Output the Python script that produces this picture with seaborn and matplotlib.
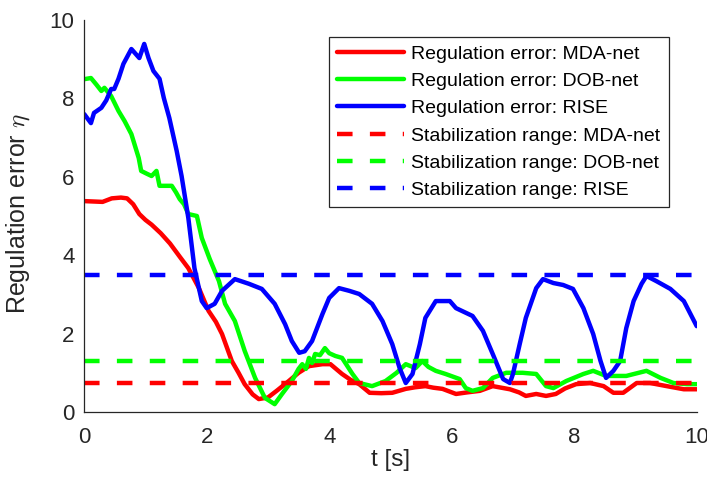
import matplotlib
matplotlib.use("Agg")
import matplotlib.pyplot as plt
import seaborn as sns
import pandas as pd

# ---------------- data ----------------
t_mda = [0, 0.15, 0.3, 0.45, 0.6, 0.7, 0.8, 0.9, 1.0, 1.1, 1.25, 1.4, 1.57, 1.7, 1.87, 2.03, 2.15,
         2.25, 2.41, 2.52, 2.62, 2.75, 2.85, 3.0, 3.15, 3.34, 3.5, 3.67, 3.89, 4.02, 4.21, 4.35, 4.49,
         4.66, 4.85, 5.03, 5.25, 5.4, 5.57, 5.7, 5.85, 6.07, 6.25, 6.46, 6.67, 6.95, 7.1, 7.21, 7.38,
         7.54, 7.7, 7.85, 8.03, 8.26, 8.48, 8.64, 8.8, 9.02, 9.24, 9.51, 9.79, 10.0]
e_mda = [5.38, 5.37, 5.36, 5.45, 5.47, 5.45, 5.3, 5.05, 4.9, 4.78, 4.56, 4.3, 3.94, 3.67, 3.17, 2.58,
         2.3, 1.99, 1.3, 1.0, 0.71, 0.45, 0.33, 0.37, 0.55, 0.79, 1.0, 1.17, 1.22, 1.22, 0.97, 0.82,
         0.71, 0.49, 0.48, 0.49, 0.59, 0.63, 0.66, 0.62, 0.59, 0.46, 0.5, 0.54, 0.66, 0.58, 0.5, 0.41,
         0.46, 0.41, 0.46, 0.6, 0.71, 0.74, 0.66, 0.49, 0.49, 0.74, 0.74, 0.66, 0.58, 0.58]

t_dob = [0, 0.11, 0.2, 0.28, 0.33, 0.44, 0.56, 0.66, 0.77, 0.89, 0.93, 1.02, 1.1, 1.18, 1.23, 1.3,
         1.43, 1.5, 1.56, 1.63, 1.7, 1.84, 1.92, 2.05, 2.2, 2.3, 2.46, 2.62, 2.79, 2.95, 3.11, 3.23,
         3.39, 3.5, 3.56, 3.62, 3.67, 3.72, 3.77, 3.85, 3.93, 4.0, 4.1, 4.21, 4.38, 4.49, 4.7, 4.92,
         5.1, 5.25, 5.41, 5.52, 5.62, 5.74, 5.9, 6.13, 6.23, 6.34, 6.51, 6.67, 6.89, 7.16, 7.38, 7.54,
         7.66, 7.87, 8.15, 8.31, 8.52, 8.85, 9.18, 9.41, 9.62, 9.84, 10.0]
e_dob = [8.49, 8.52, 8.35, 8.19, 8.27, 8.06, 7.68, 7.42, 7.09, 6.48, 6.15, 6.08, 6.02, 6.15, 5.77,
         5.77, 5.77, 5.6, 5.43, 5.3, 5.05, 5.0, 4.44, 3.9, 3.34, 2.76, 2.32, 1.56, 0.87, 0.36, 0.2,
         0.46, 0.79, 1.1, 1.22, 1.1, 1.38, 1.25, 1.48, 1.45, 1.63, 1.5, 1.43, 1.38, 0.97, 0.74, 0.66,
         0.79, 1.0, 1.22, 1.12, 1.3, 1.15, 1.05, 0.97, 0.84, 0.61, 0.54, 0.61, 0.87, 1.0, 1.0, 0.97,
         0.66, 0.61, 0.79, 0.97, 1.05, 0.92, 0.92, 1.05, 0.87, 0.74, 0.71, 0.71]

t_rise = [0, 0.11, 0.16, 0.28, 0.36, 0.44, 0.49, 0.56, 0.64, 0.77, 0.9, 0.98, 1.05, 1.13, 1.23, 1.3,
          1.39, 1.51, 1.59, 1.7, 1.8, 1.92, 2.0, 2.13, 2.25, 2.46, 2.69, 2.9, 3.11, 3.28, 3.39, 3.51,
          3.6, 3.72, 3.89, 4.0, 4.16, 4.33, 4.49, 4.7, 4.87, 5.03, 5.15, 5.25, 5.36, 5.48, 5.57, 5.74,
          5.97, 6.07, 6.34, 6.51, 6.67, 6.84, 6.95, 7.0, 7.11, 7.21, 7.38, 7.49, 7.66, 7.82, 7.98,
          8.15, 8.31, 8.43, 8.52, 8.64, 8.75, 8.85, 8.97, 9.1, 9.18, 9.34, 9.57, 9.79, 10.0]
e_rise = [7.6, 7.37, 7.63, 7.76, 7.95, 8.24, 8.24, 8.5, 8.88, 9.26, 9.03, 9.39, 9.03, 8.7, 8.5, 8.01,
          7.5, 6.66, 6.02, 4.95, 3.67, 2.83, 2.65, 2.76, 3.09, 3.39, 3.27, 3.14, 2.76, 2.24, 1.81, 1.51,
          1.55, 1.81, 2.5, 2.91, 3.16, 3.09, 3.01, 2.76, 2.32, 1.73, 1.12, 0.74, 0.97, 1.73, 2.4, 2.83,
          2.83, 2.65, 2.45, 2.07, 1.48, 0.84, 0.74, 0.97, 1.73, 2.4, 3.16, 3.39, 3.29, 3.24, 3.14,
          2.65, 1.99, 1.3, 0.87, 1.05, 1.3, 2.14, 2.83, 3.27, 3.47, 3.34, 3.14, 2.83, 2.19]

range_t = [0, 10]
range_mda = 0.75
range_dob = 1.3
range_rise = 3.5

labels_err = ["Regulation error: MDA-net", "Regulation error: DOB-net", "Regulation error: RISE"]
labels_rng = ["Stabilization range: MDA-net", "Stabilization range: DOB-net", "Stabilization range: RISE"]
x_ticks = [0, 2, 4, 6, 8, 10]
y_ticks = [0, 2, 4, 6, 8, 10]

# ---------------- style ----------------
sns.set_style("white")
plt.rcParams['font.family'] = ['Liberation Sans', 'DejaVu Sans']
plt.rcParams['mathtext.fontset'] = 'cm'

fig = plt.figure(figsize=(7.07, 4.83), dpi=100)
ax = fig.add_axes([84.2 / 707, 71 / 483, 612.5 / 707, 392 / 483])

colors = ["#ff0000", "#00ff00", "#0000ff"]
lw = 3.2
dash = (0, (3.5, 3.9))

series = [(t_mda, e_mda), (t_dob, e_dob), (t_rise, e_rise)]
for (tt, ee), c, lab in zip(series, colors, labels_err):
    df = pd.DataFrame({"t": tt, "e": ee})
    sns.lineplot(data=df, x="t", y="e", color=c, lw=lw, label=lab, ax=ax, sort=True)

for lvl, c, lab in zip([range_mda, range_dob, range_rise], colors, labels_rng):
    df = pd.DataFrame({"t": range_t, "e": [lvl, lvl]})
    sns.lineplot(data=df, x="t", y="e", color=c, lw=lw, linestyle=dash, label=lab, ax=ax)

ax.set_xlim(0, 10)
ax.set_ylim(0, 10)
ax.set_xticks(x_ticks)
ax.set_yticks(y_ticks)
ax.set_xticklabels([str(v) for v in x_ticks])
ax.set_yticklabels([str(v) for v in y_ticks])

for s in ["top", "right"]:
    ax.spines[s].set_visible(False)
for s in ["left", "bottom"]:
    ax.spines[s].set_color("#262626")
    ax.spines[s].set_linewidth(0.9)

ax.tick_params(axis="both", direction="in", length=4.5, width=0.9, color="#262626",
               labelsize=16, labelcolor="#262626")
ax.tick_params(axis="x", pad=11)
ax.tick_params(axis="y", pad=7)

ax.set_xlabel("t [s]", fontsize=17.5, color="#262626")
ax.set_ylabel(r"Regulation error $\eta$", fontsize=18, color="#262626")
ax.xaxis.set_label_coords(0.5, -0.095)
ax.yaxis.set_label_coords(-0.085, 0.505)

leg = ax.legend(loc="upper right", bbox_to_anchor=(0.954, 0.957), borderaxespad=0,
                fontsize=14, frameon=True, fancybox=False, framealpha=1,
                handlelength=3.45, handletextpad=0.36, labelspacing=0.5, borderpad=0.42)
leg.get_frame().set_edgecolor("#262626")
leg.get_frame().set_linewidth(0.9)
for txt in leg.get_texts():
    txt.set_color("black")

fig.savefig("out.png", dpi=100)
